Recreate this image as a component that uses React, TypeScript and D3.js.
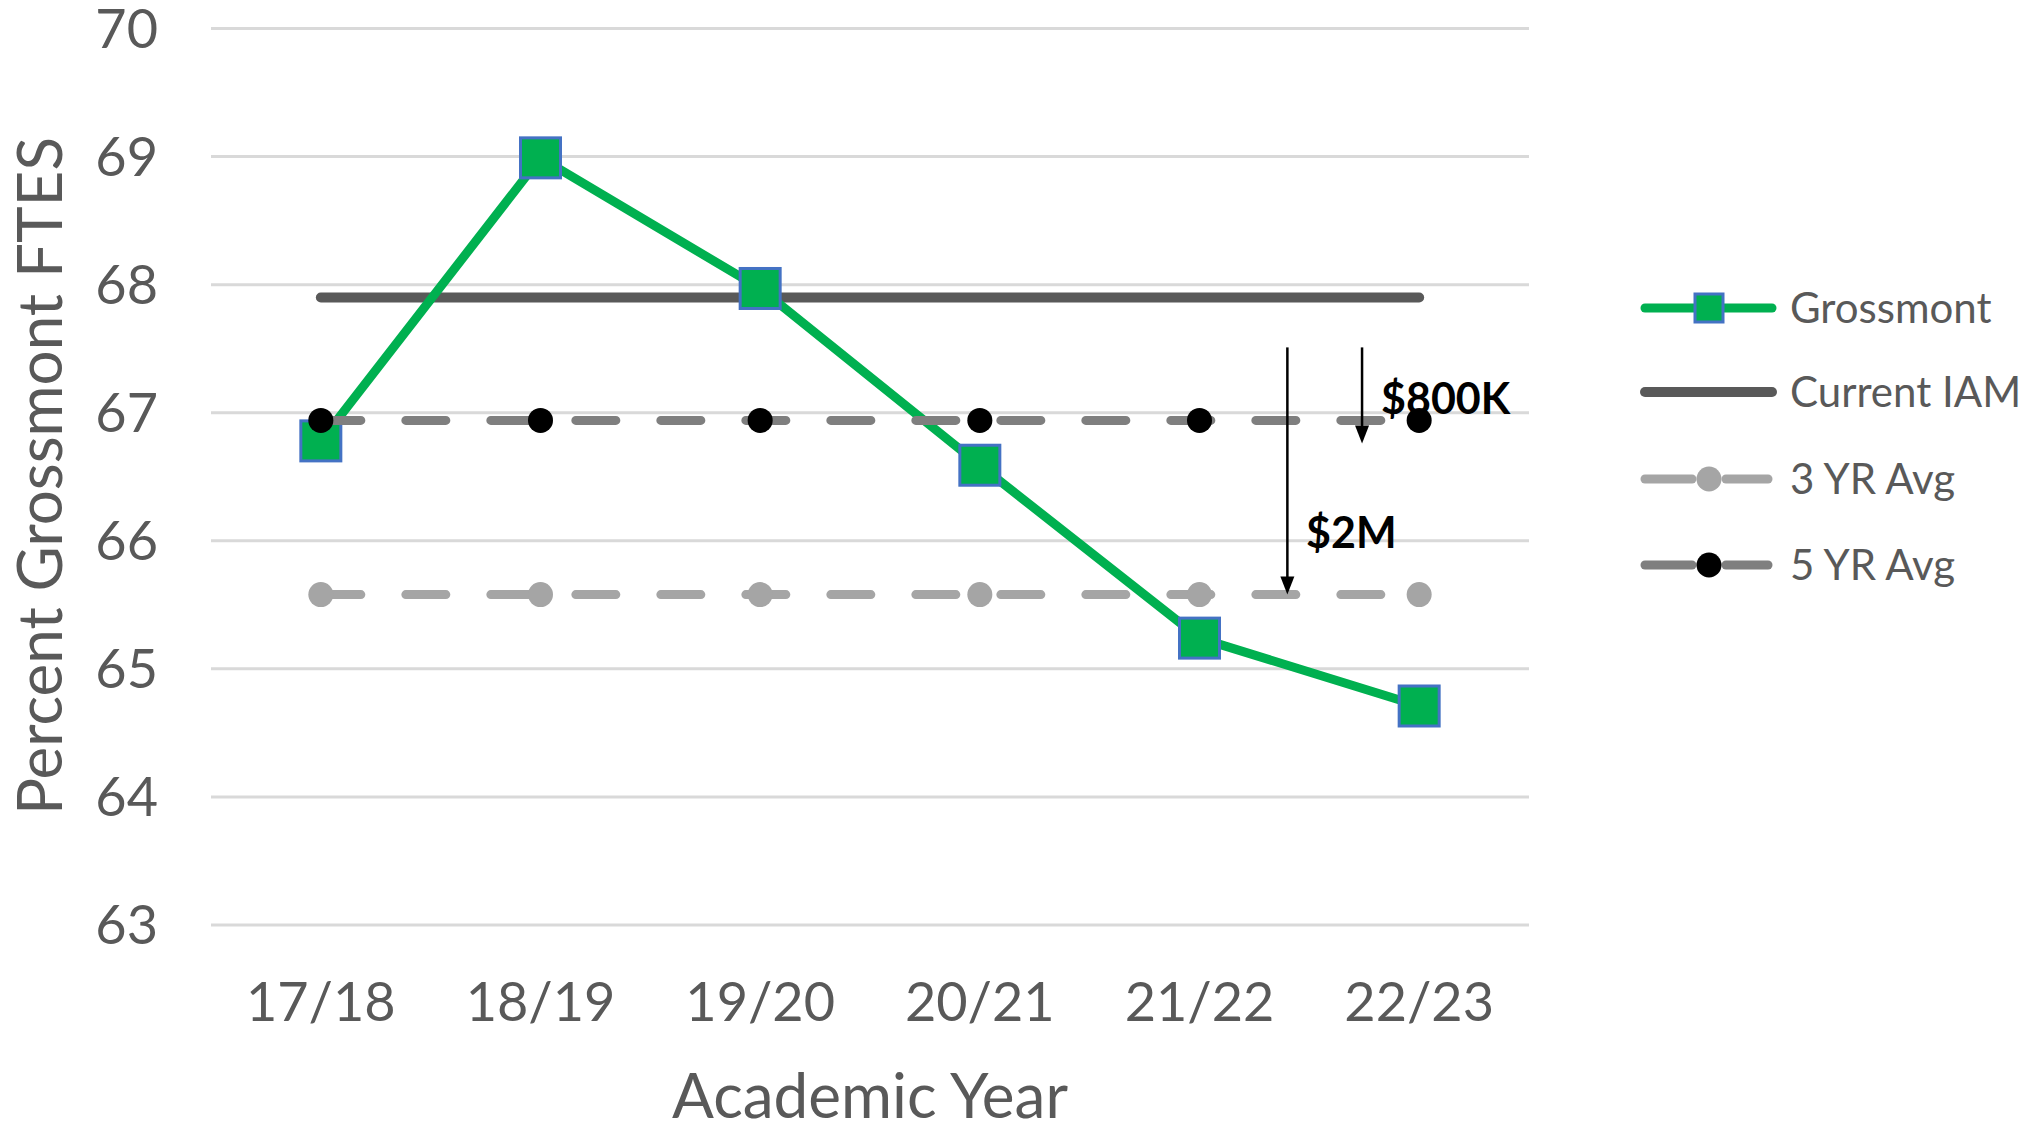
import React from "react";
import * as d3 from "d3";

const categories = ["17/18", "18/19", "19/20", "20/21", "21/22", "22/23"];
const grossmont = [66.78, 68.99, 67.97, 66.59, 65.24, 64.71];
const currentIAM = [67.9, 67.9, 67.9, 67.9, 67.9, 67.9];
const avg3 = [65.58, 65.58, 65.58, 65.58, 65.58, 65.58];
const avg5 = [66.94, 66.94, 66.94, 66.94, 66.94, 66.94];
const yTicks = [63, 64, 65, 66, 67, 68, 69, 70];
const legendItems = ["Grossmont", "Current IAM", "3 YR Avg", "5 YR Avg"];
const arrows = [
  { label: "$2M", from: 67.51, to: 65.58, pos: 0.4 },
  { label: "$800K", from: 67.51, to: 66.76, pos: 0.74 },
];

const W = 2028;
const H = 1127;
const FONT = "Lato, 'Open Sans', sans-serif";
const TEXT = "#595959";

export default function App() {
  const x = d3.scaleBand<string>().domain(categories).range([211, 1529]).padding(0);
  const cx = (c: string) => (x(c) as number) + x.bandwidth() / 2;
  const y = d3.scaleLinear().domain([63, 70]).range([925, 28.5]);

  const line = d3
    .line<number>()
    .x((_, i) => cx(categories[i]))
    .y((d) => y(d));

  const lastCat = categories[categories.length - 1];
  const prevCat = categories[categories.length - 2];

  const legendX0 = 1645;
  const legendX1 = 1772;
  const legendMid = 1709;
  const legendTextX = 1790;
  const legendY = [308, 392, 479, 565];

  return (
    <svg
      width={W}
      height={H}
      style={{ position: "absolute", left: 0, top: 0, background: "#fff" }}
      fontFamily={FONT}
    >
      <rect x={0} y={0} width={W} height={H} fill="#fff" />
      {/* gridlines */}
      {yTicks.map((t) => (
        <line key={t} x1={211} x2={1529} y1={y(t)} y2={y(t)} stroke="#D9D9D9" strokeWidth={3} />
      ))}
      {/* y tick labels */}
      {yTicks.map((t) => (
        <text key={"yl" + t} x={158} y={y(t)} dy="0.36em" textAnchor="end" fontSize={54} fill={TEXT}>
          {t}
        </text>
      ))}
      {/* x tick labels */}
      {categories.map((c) => (
        <text key={"xl" + c} x={cx(c)} y={1021} textAnchor="middle" fontSize={54} fill={TEXT}>
          {c}
        </text>
      ))}
      {/* axis titles */}
      <text x={870} y={1118} textAnchor="middle" fontSize={62} fill={TEXT}>
        Academic Year
      </text>
      <text
        transform={`translate(62,476) rotate(-90)`}
        textAnchor="middle"
        fontSize={62}
        fill={TEXT}
      >
        Percent Grossmont FTES
      </text>

      {/* Current IAM */}
      <path d={line(currentIAM) || ""} fill="none" stroke="#595959" strokeWidth={10} strokeLinecap="round" />

      {/* Grossmont */}
      <path d={line(grossmont) || ""} fill="none" stroke="#00B050" strokeWidth={9} strokeLinecap="round" strokeLinejoin="round" />
      {grossmont.map((v, i) => (
        <rect
          key={"g" + i}
          x={cx(categories[i]) - 20}
          y={y(v) - 20}
          width={40}
          height={40}
          fill="#00B050"
          stroke="#4472C4"
          strokeWidth={3}
        />
      ))}

      {/* 3 YR Avg */}
      <path d={line(avg3) || ""} fill="none" stroke="#A5A5A5" strokeWidth={9} strokeLinecap="round" strokeDasharray="40 45" />
      {avg3.map((v, i) => (
        <circle key={"a3" + i} cx={cx(categories[i])} cy={y(v)} r={12.5} fill="#A5A5A5" />
      ))}

      {/* 5 YR Avg */}
      <path d={line(avg5) || ""} fill="none" stroke="#7F7F7F" strokeWidth={9} strokeLinecap="round" strokeDasharray="40 45" />
      {avg5.map((v, i) => (
        <circle key={"a5" + i} cx={cx(categories[i])} cy={y(v)} r={12.5} fill="#000" />
      ))}

      {/* annotation arrows */}
      {arrows.map((a) => {
        const ax = cx(prevCat) + a.pos * (cx(lastCat) - cx(prevCat));
        const y0 = y(a.from);
        const y1 = y(a.to);
        return (
          <g key={a.label}>
            <line x1={ax} x2={ax} y1={y0} y2={y1 - 16} stroke="#000" strokeWidth={2.5} />
            <path d={`M${ax - 7},${y1 - 18} L${ax + 7},${y1 - 18} L${ax},${y1} Z`} fill="#000" />
          </g>
        );
      })}
      <text x={1381} y={414} fontSize={43} fontWeight="bold" fill="#000">
        {arrows[1].label}
      </text>
      <text x={1306} y={548} fontSize={43} fontWeight="bold" fill="#000">
        {arrows[0].label}
      </text>

      {/* legend */}
      <g>
        <line x1={legendX0} x2={legendX1} y1={legendY[0]} y2={legendY[0]} stroke="#00B050" strokeWidth={9} strokeLinecap="round" />
        <rect x={legendMid - 14} y={legendY[0] - 14} width={28} height={28} fill="#00B050" stroke="#4472C4" strokeWidth={3} />
        <line x1={legendX0} x2={legendX1} y1={legendY[1]} y2={legendY[1]} stroke="#595959" strokeWidth={10} strokeLinecap="round" />
        <line x1={legendX0} x2={1692} y1={legendY[2]} y2={legendY[2]} stroke="#A5A5A5" strokeWidth={9} strokeLinecap="round" />
        <line x1={1726} x2={1768} y1={legendY[2]} y2={legendY[2]} stroke="#A5A5A5" strokeWidth={9} strokeLinecap="round" />
        <circle cx={legendMid} cy={legendY[2]} r={12.5} fill="#A5A5A5" />
        <line x1={legendX0} x2={1692} y1={legendY[3]} y2={legendY[3]} stroke="#7F7F7F" strokeWidth={9} strokeLinecap="round" />
        <line x1={1726} x2={1768} y1={legendY[3]} y2={legendY[3]} stroke="#7F7F7F" strokeWidth={9} strokeLinecap="round" />
        <circle cx={legendMid} cy={legendY[3]} r={12.5} fill="#000" />
        {legendItems.map((l, i) => (
          <text key={l} x={legendTextX} y={legendY[i]} dy="0.36em" fontSize={42} fill={TEXT}>
            {l}
          </text>
        ))}
      </g>
    </svg>
  );
}
